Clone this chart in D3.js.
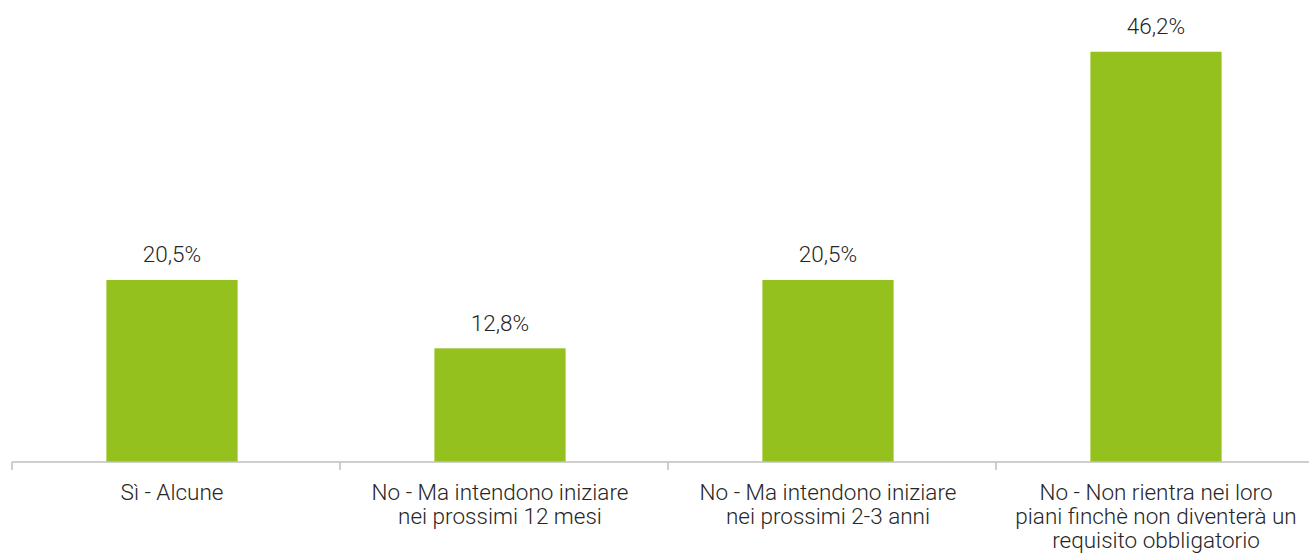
<!DOCTYPE html>
<html>
<head>
<meta charset="utf-8">
<script src="https://cdn.jsdelivr.net/npm/d3@7"></script>
<style>
  html, body { margin: 0; padding: 0; background: #ffffff; }
  svg { display: block; }
</style>
</head>
<body>
<svg id="chart" width="1309" height="558"></svg>
<script>
// Categories (line breaks mark how each label wraps)
const categories = [
  "Sì - Alcune",
  "No - Ma intendono iniziare\nnei prossimi 12 mesi",
  "No - Ma intendono iniziare\nnei prossimi 2-3 anni",
  "No - Non rientra nei loro\npiani finchè non diventerà un\nrequisito obbligatorio"
];
const values = [20.5, 12.8, 20.5, 46.2];
const valueLabels = ["20,5%", "12,8%", "20,5%", "46,2%"];

const svg = d3.select("#chart");
const baseline = 462;

// Band edges used for the axis ticks
const x = d3.scaleBand()
  .domain(categories)
  .range([12, 1324])
  .paddingInner(0)
  .paddingOuter(0);

// Bar placement inside each band
const xBar = d3.scaleBand()
  .domain(categories)
  .range([8, 1320])
  .paddingInner(0.6)
  .paddingOuter(0.3);

const y = d3.scaleLinear()
  .domain([0, 50])
  .range([baseline, 18]);

const fontFamily = "Roboto, 'Noto Sans', sans-serif";
const fontSize = 22.5;
const textColor = "#262626";

// Bars
svg.append("g")
  .selectAll("rect")
  .data(values)
  .join("rect")
  .attr("x", (d, i) => xBar(categories[i]))
  .attr("y", d => y(d))
  .attr("width", xBar.bandwidth())
  .attr("height", d => baseline - y(d))
  .attr("fill", "#95C11F");

// Value labels above bars (kept inside the top edge)
svg.append("g")
  .selectAll("text")
  .data(values)
  .join("text")
  .attr("x", (d, i) => xBar(categories[i]) + xBar.bandwidth() / 2)
  .attr("y", d => Math.max(y(d) - 17.5, 30))
  .attr("text-anchor", "middle")
  .attr("font-family", fontFamily)
  .attr("font-weight", 300)
  .attr("font-size", fontSize)
  .attr("fill", textColor)
  .text((d, i) => valueLabels[i]);

// Category axis: baseline with ticks at band edges
const axis = svg.append("g").attr("class", "x-axis");
axis.append("line")
  .attr("x1", x.range()[0])
  .attr("x2", 1309)
  .attr("y1", baseline)
  .attr("y2", baseline)
  .attr("stroke", "#BFBFBF")
  .attr("stroke-width", 1.5);

axis.selectAll("line.tick")
  .data(categories)
  .join("line")
  .attr("class", "tick")
  .attr("x1", d => x(d))
  .attr("x2", d => x(d))
  .attr("y1", baseline)
  .attr("y2", baseline + 8)
  .attr("stroke", "#BFBFBF")
  .attr("stroke-width", 1.5);

// Wrapped category labels
const labels = axis.selectAll("text.cat")
  .data(categories)
  .join("text")
  .attr("class", "cat")
  .attr("text-anchor", "middle")
  .attr("font-family", fontFamily)
  .attr("font-weight", 300)
  .attr("font-size", fontSize)
  .attr("fill", textColor);

labels.each(function (d) {
  const t = d3.select(this);
  const cx = xBar(d) + xBar.bandwidth() / 2;
  d.split("\n").forEach((line, k) => {
    t.append("tspan")
      .attr("x", cx)
      .attr("y", 500 + k * 24)
      .text(line);
  });
});
</script>
</body>
</html>
